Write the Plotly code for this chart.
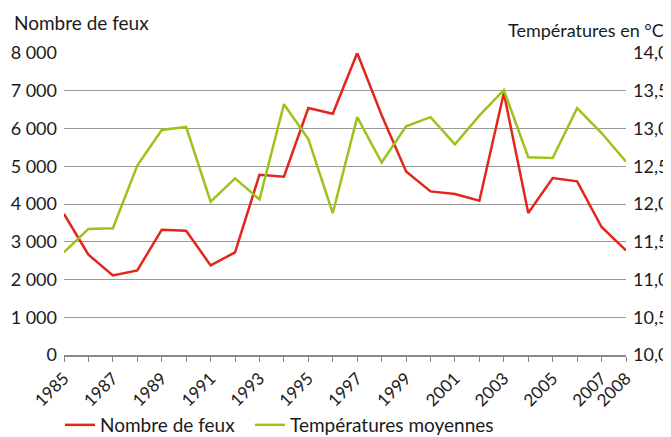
import plotly.graph_objects as go

years = list(range(1985, 2009))
fires = [3735, 2657, 2109, 2241, 3319, 3293, 2374, 2718, 4776, 4723, 6543, 6392,
         8000, 6350, 4864, 4334, 4265, 4087, 6940, 3762, 4689, 4600, 3391, 2771]
temps = [11.36, 11.67, 11.68, 12.51, 12.98, 13.02, 12.03, 12.34, 12.06, 13.32, 12.86, 11.88,
         13.15, 12.55, 13.03, 13.15, 12.79, 13.17, 13.51, 12.62, 12.61, 13.27, 12.94, 12.56]
tick_labels = [str(y) if (y % 2 == 1 or y == 2008) else "" for y in years]

FONT = "Lato"
TXT = "#1a1a1a"
RED = "#e3261b"
GREEN = "#9cc31c"

# page body has an 8px default margin, so the figure is offset by 8px
W, H = 663, 429
L, R, T, B = 56, 45, 45, 82
PW, PH = W - L - R, H - T - B

fig = go.Figure()
fig.add_trace(go.Scatter(x=years, y=fires, mode="lines", name="Nombre de feux",
                         line=dict(color=RED, width=2.5), legend="legend"))
fig.add_trace(go.Scatter(x=years, y=temps, mode="lines", name="Températures moyennes",
                         line=dict(color=GREEN, width=2.5), yaxis="y2", legend="legend2"))

leg_common = dict(orientation="h", xanchor="left", xref="container",
                  y=12 / H, yanchor="middle", yref="container",
                  font=dict(size=19, color=TXT), itemwidth=30,
                  bgcolor="rgba(0,0,0,0)")

fig.update_layout(
    width=W, height=H,
    margin=dict(l=L, r=R, t=T, b=B, autoexpand=False),
    paper_bgcolor="white", plot_bgcolor="white",
    separators=", ",
    font=dict(family=FONT, size=18, color=TXT),
    showlegend=True,
    legend=dict(x=52 / W, **leg_common),
    legend2=dict(x=242 / W, **leg_common),
    xaxis=dict(range=[1985, 2008], tickvals=years, ticktext=tick_labels, tickangle=-45,
               ticks="outside", ticklen=5, tickcolor="#888", tickwidth=1,
               showgrid=False, zeroline=False, showline=True, linecolor="#888", linewidth=1.5,
               tickfont=dict(size=17), fixedrange=True, automargin=False),
    yaxis=dict(range=[0, 8000], dtick=1000, tickformat=",d", showgrid=True,
               gridcolor="#9a9a9a", gridwidth=1.3, zeroline=False, ticks="",
               ticklabelstandoff=6, tickfont=dict(size=18), automargin=False),
    yaxis2=dict(range=[10, 14], dtick=0.5, tickformat=".1f", overlaying="y", side="right",
                showgrid=False, zeroline=False, ticks="", ticklabelstandoff=6,
                tickfont=dict(size=18), automargin=False),
    annotations=[
        dict(text="Nombre de feux", xref="paper", yref="paper", x=-(L - 4) / PW, y=1 + 30 / PH,
             xanchor="left", yanchor="middle", showarrow=False, font=dict(size=19, color=TXT)),
        dict(text="Températures en °C", xref="paper", yref="paper", x=1 + 40 / PW, y=1 + 23 / PH,
             xanchor="right", yanchor="middle", showarrow=False, font=dict(size=18, color=TXT)),
    ],
)

fig.write_html("out.html")
